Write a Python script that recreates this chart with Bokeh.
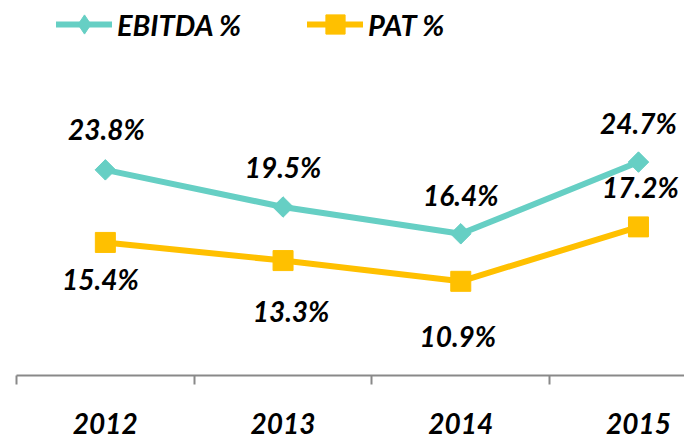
from bokeh.plotting import figure
from bokeh.models import (ColumnDataSource, FixedTicker, Legend, LegendItem, Range1d)
from bokeh.core.properties import value
from bokeh.embed import file_html
from bokeh.resources import INLINE
import math

# ---- data ----
years = ["2012", "2013", "2014", "2015"]
ebitda = [23.8, 19.5, 16.4, 24.7]
pat = [15.4, 13.3, 10.9, 17.2]
ebitda_labels = ["23.8%", "19.5%", "16.4%", "24.7%"]
pat_labels = ["15.4%", "13.3%", "10.9%", "17.2%"]

# ---- label placement (screen px, style only) ----
ebitda_dx = [1, 0, 0, 0]
ebitda_dy = [-41, -40, -39, -39]
pat_dx = [-5, 8, -3, 2]
pat_dy = [37, 50, 55, -40]

TEAL = "#66CFC4"
GOLD = "#FFC000"
FONT = "Lato"

idx = list(range(len(years)))

src_e = ColumnDataSource(dict(x=idx, y=ebitda, t=ebitda_labels, dx=ebitda_dx, dy=ebitda_dy))
src_p = ColumnDataSource(dict(x=idx, y=pat, t=pat_labels, dx=pat_dx, dy=pat_dy))

p = figure(width=684, height=440, output_backend="svg", toolbar_location=None,
           x_range=Range1d(-0.5, 3.259), y_range=Range1d(0, 43.4),
           min_border_left=16, min_border_right=0, min_border_top=0, min_border_bottom=65)
p.outline_line_color = None
p.grid.visible = False
p.yaxis.visible = False
p.background_fill_color = "white"
p.border_fill_color = "white"

xa = p.xaxis[0]
xa.ticker = FixedTicker(ticks=idx, minor_ticks=[i - 0.5 for i in range(len(years) + 1)])
xa.major_label_overrides = {i: y for i, y in zip(idx, years)}
xa.axis_line_color = "#898989"
xa.axis_line_width = 2
xa.major_tick_line_color = None
xa.major_tick_out = 0
xa.major_tick_in = 0
xa.minor_tick_line_color = "#898989"
xa.minor_tick_line_width = 2
xa.minor_tick_out = 9
xa.minor_tick_in = 0
xa.major_label_standoff = 28
xa.major_label_text_font = FONT
xa.major_label_text_font_style = "bold italic"
xa.major_label_text_font_size = "28px"
xa.major_label_text_color = "black"

le = p.line("x", "y", source=src_e, line_color=TEAL, line_width=6, line_cap="round", line_join="round")
# legend-only diamond sits fully underneath the rotated square
ld = p.scatter("x", "y", source=src_e, marker="diamond", size=19, color=TEAL)
p.scatter("x", "y", source=src_e, marker="square", size=14.5, angle=math.pi / 4, color=TEAL)

lp = p.line("x", "y", source=src_p, line_color=GOLD, line_width=6, line_cap="round", line_join="round")
sp = p.scatter("x", "y", source=src_p, marker="square", size=20, color=GOLD)

for src in (src_e, src_p):
    p.text("x", "y", text="t", source=src, x_offset="dx", y_offset="dy",
           text_font=value(FONT), text_font_style="bold italic", text_font_size="28px",
           text_color="black", text_align="center", text_baseline="middle")

legend = Legend(items=[LegendItem(label="EBITDA %", renderers=[le, ld]),
                       LegendItem(label="PAT %", renderers=[lp, sp])],
                location=(40, 327), orientation="horizontal",
                glyph_width=56, glyph_height=48, label_standoff=5, spacing=66,
                padding=0, margin=0, border_line_color=None, background_fill_alpha=0,
                label_text_font=FONT, label_text_font_style="bold italic",
                label_text_font_size="29px", label_text_color="black",
                label_height=30)
p.add_layout(legend, "center")

open("out.html", "w").write(file_html(p, INLINE))
